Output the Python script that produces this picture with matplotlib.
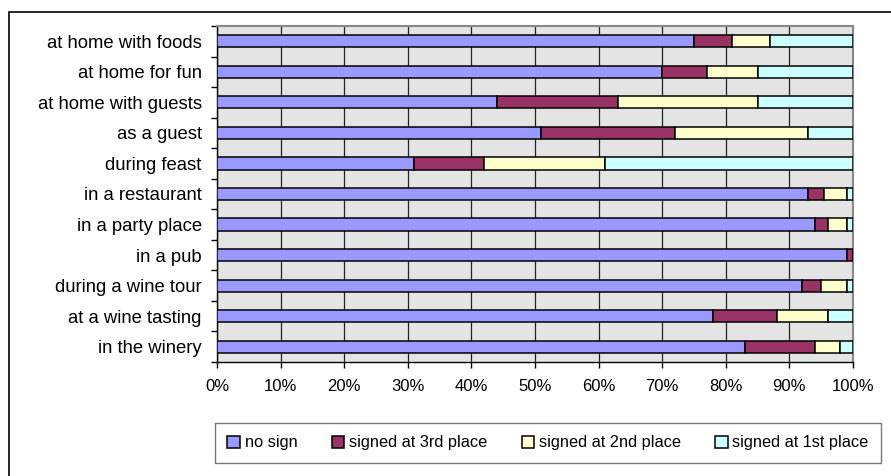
import numpy as np
import matplotlib.pyplot as plt
from matplotlib.patches import Rectangle

plt.rcParams['font.family'] = ['Liberation Sans', 'DejaVu Sans']

places = ['at home with foods', 'at home for fun', 'at home with guests', 'as a guest',
          'during feast', 'in a restaurant', 'in a party place', 'in a pub',
          'during a wine tour', 'at a wine tasting', 'in the winery']
# share (%) of each answer per place
no_sign = [75, 70, 44, 51, 31, 93, 94, 99, 92, 78, 83]
third = [6, 7, 19, 21, 11, 2.5, 2, 1, 3, 10, 11]
second = [6, 8, 22, 21, 19, 3.5, 3, 0, 4, 8, 4]
first = [13, 15, 15, 7, 39, 1, 1, 0, 1, 4, 2]

series = [no_sign, third, second, first]
names = ['no sign', 'signed at 3rd place', 'signed at 2nd place', 'signed at 1st place']
colors = ['#9999ff', '#993366', '#ffffcc', '#ccffff']

fig = plt.figure(figsize=(8.91, 4.76), dpi=100)
W, H = 891, 476
ax = fig.add_axes([217 / W, 1 - 362 / H, (853 - 217) / W, (362 - 26) / H])
ax.set_facecolor('#e4e4e4')

y = np.arange(len(places))
left = np.zeros(len(places))
bars = []
for vals, nm, c in zip(series, names, colors):
    v = np.array(vals, float)
    b = ax.barh(y, v, left=left, height=0.4, color=c, edgecolor='black', linewidth=1.1,
                label=nm, zorder=3)
    bars.append(b)
    left += v

ax.set_xlim(0, 100)
ax.set_ylim(len(places) - 0.5, -0.5)
ax.set_xticks(np.arange(0, 101, 10))
ax.set_xticklabels(['{0}%'.format(t) for t in range(0, 101, 10)], fontsize=12)
ax.set_yticks(y)
ax.set_yticklabels(places, fontsize=13.3)
ax.set_yticks(np.arange(-0.5, len(places), 1), minor=True)
ax.tick_params(axis='y', which='major', length=0, pad=11)
ax.tick_params(axis='y', which='minor', length=4, width=1, direction='out')
ax.tick_params(axis='x', length=4, width=1, direction='out', pad=8)
ax.grid(axis='x', color='#222222', linewidth=0.9, zorder=1)
for s in ['top', 'right']:
    ax.spines[s].set_color('#888888')
    ax.spines[s].set_linewidth(1.5)
ax.spines['left'].set_linewidth(1)
ax.spines['bottom'].set_linewidth(1)

leg = fig.legend(handles=bars, labels=names, loc='center', ncol=4,
                 bbox_to_anchor=(548 / W, 1 - 443 / H),
                 fontsize=11.8, frameon=True, fancybox=False,
                 handlelength=0.75, handleheight=0.75, handletextpad=0.3,
                 borderpad=0.75, borderaxespad=0, columnspacing=2.1)
leg.get_frame().set_edgecolor('#555555')
leg.get_frame().set_linewidth(1)

fig.patches.append(Rectangle((9 / W, -0.1), 1.1, 1 - 12 / H + 0.1, transform=fig.transFigure,
                             fill=False, edgecolor='black', linewidth=1.2))

fig.savefig('out.png', dpi=100)
